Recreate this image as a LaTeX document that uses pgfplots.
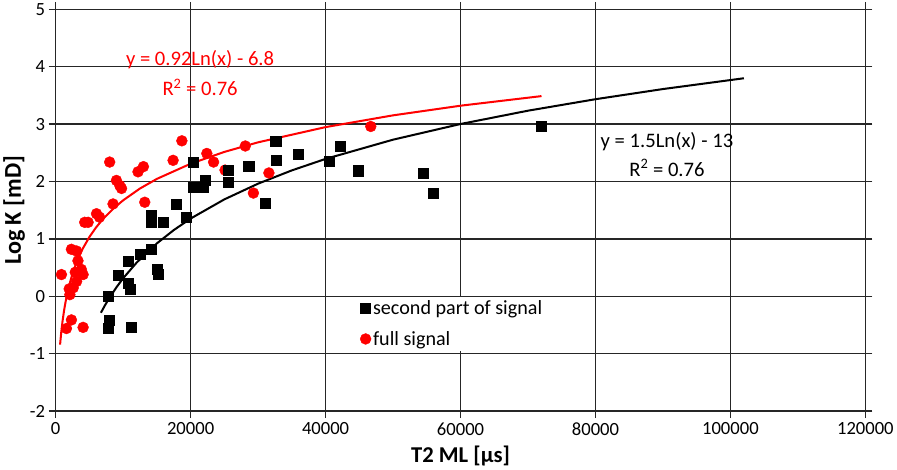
\documentclass[border=0pt]{standalone}
\usepackage{pgfplots}
\pgfplotsset{compat=1.18}
\usepackage{fontspec}
\setmainfont{Carlito}

% measured permeability vs. T2 log-mean
\pgfplotstableread{
x y
7780 -0.56
7930 -0.41
7780 0.00
9270 0.37
10750 0.62
10750 0.23
11000 0.12
11250 -0.53
12500 0.73
14200 0.82
15000 0.47
15200 0.38
14200 1.41
14200 1.29
15950 1.29
17900 1.61
19400 1.38
20400 2.34
20400 1.90
22200 2.02
21900 1.90
25600 2.20
25600 1.99
28600 2.27
31000 1.63
32600 2.70
32700 2.37
35900 2.48
40500 2.36
42100 2.61
44900 2.19
54500 2.15
55900 1.80
72000 2.97
}\secondpart

\pgfplotstableread{
x y
850 0.38
2330 0.82
3100 0.79
3300 0.62
3800 0.47
4060 0.38
3100 0.26
2600 0.15
2100 0.03
2000 0.13
2900 0.42
2330 -0.41
1590 -0.56
4060 -0.54
4300 1.29
4800 1.29
6050 1.44
6500 1.38
8500 1.61
8000 2.34
9000 2.02
9500 1.93
9760 1.88
12200 2.17
13000 2.26
13200 1.64
17400 2.37
18700 2.71
22400 2.49
23400 2.34
25100 2.20
28100 2.62
29300 1.80
31600 2.15
46700 2.96
}\fullsignal

% logarithmic trend lines, tabulated
\pgfplotstableread{
x y
650 -0.841
800 -0.650
1000 -0.445
1250 -0.240
1500 -0.072
2000 0.193
2500 0.398
3000 0.566
4000 0.830
5000 1.036
6000 1.204
7000 1.346
8500 1.524
10000 1.674
12500 1.880
15000 2.047
20000 2.311
25000 2.517
30000 2.684
40000 2.949
50000 3.154
60000 3.322
72000 3.489
}\fulltrend

\pgfplotstableread{
x y
6700 -0.285
7300 -0.156
8000 -0.019
9000 0.158
10000 0.316
12000 0.589
15000 0.924
17500 1.155
20000 1.356
25000 1.690
30000 1.964
35000 2.195
40000 2.395
50000 2.730
60000 3.003
70000 3.235
80000 3.435
90000 3.612
102000 3.800
}\secondtrend

\begin{document}
\begin{tikzpicture}
\begin{axis}[
  width=802bp, height=398bp, scale only axis,
  xmin=0, xmax=120000, ymin=-2, ymax=5,
  xtick={0,20000,40000,60000,80000,100000,120000},
  ytick={-2,-1,0,1,2,3,4,5},
  scaled x ticks=false,
  /pgf/number format/fixed,
  /pgf/number format/set thousands separator={},
  /pgf/number format/assume math mode=true,
  grid=major,
  grid style={black!85, line width=1.4bp},
  axis line style={black!85, line width=1.4bp},
  tick style={black!85, line width=1.4bp},
  tick align=outside, major tick length=7bp,
  ticklabel style={font=\fontsize{18.5}{20}\selectfont},
  xticklabel style={yshift=-1bp},
  xlabel={T2 ML [µs]},
  ylabel={Log K [mD]},
  xlabel style={font=\bfseries\fontsize{22.5}{24}\selectfont, yshift=-3bp},
  ylabel style={font=\bfseries\fontsize{24}{26}\selectfont, yshift=-2bp},
  legend style={at={(axis cs:44800,0.0)}, anchor=north west,
    draw=none, fill=white, font=\fontsize{20}{22}\selectfont,
    row sep=11bp, inner sep=2bp},
  legend cell align=left,
  reverse legend,
]
\addplot[black, line width=2pt, forget plot] table[x=x,y=y] {\secondtrend};
\addplot[red, line width=2pt, forget plot] table[x=x,y=y] {\fulltrend};
\addplot[only marks, mark=*, mark size=5.4bp, red, mark options={fill=red, draw=red}] table[x=x,y=y] {\fullsignal};
\addlegendentry{full signal}
\addplot[only marks, mark=square*, mark size=5bp, black, mark options={fill=black}] table[x=x,y=y] {\secondpart};
\addlegendentry{second part of signal}

\node[red, font=\fontsize{20.5}{22}\selectfont] at (axis cs:21400,4.13) {y = 0.92Ln(x) - 6.8};
\node[red, font=\fontsize{20.5}{22}\selectfont] at (axis cs:21400,3.64) {R\textsuperscript{2} = 0.76};
\node[black, font=\fontsize{20.5}{22}\selectfont] at (axis cs:90600,2.70) {y = 1.5Ln(x) - 13};
\node[black, font=\fontsize{20.5}{22}\selectfont] at (axis cs:90600,2.24) {R\textsuperscript{2} = 0.76};
\end{axis}
\end{tikzpicture}
\end{document}
